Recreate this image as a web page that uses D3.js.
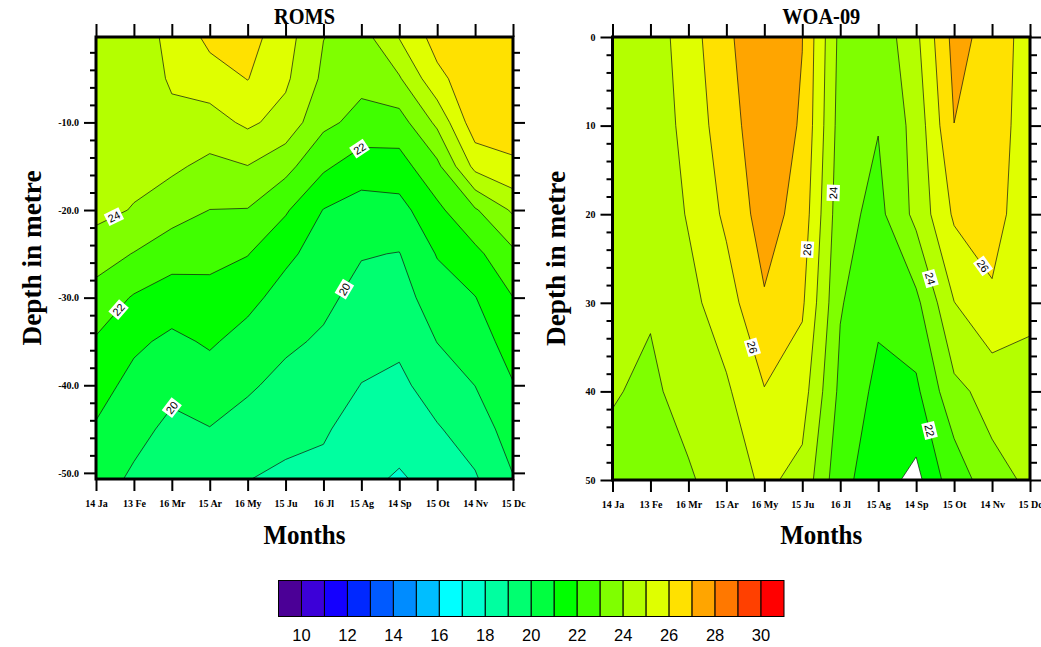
<!DOCTYPE html>
<html>
<head>
<meta charset="utf-8">
<script src="https://cdn.jsdelivr.net/npm/d3@7"></script>
<style>
  body { margin: 0; background: #fff; }
  svg { display: block; }
</style>
</head>
<body>
<svg id="chart" width="1041" height="647"></svg>
<script>
// ---- data ---------------------------------------------------------------
const months = ["14 Ja", "13 Fe", "16 Mr", "15 Ar", "16 My", "15 Ju",
                "16 Jl", "15 Ag", "14 Sp", "15 Ot", "14 Nv", "15 Dc"];

// ROMS model levels (m, negative downward) and one temperature profile per month
const romsDepths = [-0.25, -5, -10, -15, -20, -25, -30, -35, -40, -45, -50.7];
const romsProfiles = [
  [24.6, 24.5, 24.45, 24.4, 24.3, 23.45, 22.62, 21.9, 21.4, 20.9, 20.4],
  [24.8, 24.6, 24.45, 24.3, 23.94, 22.96, 21.91, 21.19, 20.69, 20.28, 19.85],
  [25.1, 25.08, 24.85, 24.18, 23.41, 22.43, 21.51, 20.79, 20.22, 19.79, 19.4],
  [26.3, 25.49, 24.62, 23.75, 22.99, 22.29, 21.68, 21.12, 20.54, 19.97, 19.5],
  [26.4, 26.03, 25.18, 23.98, 22.96, 22.04, 21.27, 20.66, 20.14, 19.61, 19.02],
  [25.4, 25.17, 24.64, 23.32, 22.12, 21.2, 20.64, 20.18, 19.71, 19.25, 18.84],
  [24.02, 23.81, 23.23, 22.18, 20.97, 20.6, 20.23, 19.86, 19.49, 19.11, 18.75],
  [23.57, 23.25, 22.7, 21.47, 20.61, 20.06, 19.68, 19.33, 18.98, 18.6, 18.22],
  [25.05, 23.9, 22.58, 21.6, 20.65, 19.97, 19.58, 19.19, 18.79, 18.36, 17.9],
  [26.4, 25.74, 24.22, 22.76, 21.77, 21.06, 20.53, 20.02, 19.45, 18.92, 18.3],
  [26.7, 26.62, 26.6, 25.3, 22.89, 21.75, 20.97, 20.47, 20.01, 19.46, 18.9],
  [26.8, 26.53, 26.3, 25.9, 24.15, 22.8, 21.99, 21.47, 20.95, 20.47, 19.95]
];

// WOA-09 standard depths (m) and one climatological profile per month
const woaDepths = [0, 10, 20, 30, 40, 50];
const woaProfiles = [
  [24.4, 24.35, 24.25, 24.15, 24.06, 23.75],
  [24.47, 24.4, 24.25, 24.08, 23.85, 23.7],
  [25.49, 25.3, 25.08, 24.7, 24.3, 23.9],
  [26.9, 26.6, 26.2, 25.55, 24.85, 24.4],
  [27.4, 27.6, 27.45, 26.9, 25.95, 25.2],
  [27.02, 26.9, 26.6, 26.15, 25.45, 24.7],
  [23.7, 23.55, 23.35, 23.08, 22.75, 22.3],
  [23.29, 23.04, 22.7, 22.2, 21.75, 21.45],
  [24.77, 24.35, 24.28, 22.75, 21.8, 21.3],
  [27.33, 26.99, 26.15, 24.98, 23.75, 22.34],
  [26.64, 26.55, 26.4, 25.85, 24.35, 23.7],
  [25.52, 25.45, 25.35, 25.15, 24.75, 24.15]
];
// area without WOA data near the bottom (month index, depth)
const woaMissing = [[7.6, 50], [8.0, 47.4], [8.16, 50]];

// contour labels: level and approximate place along the line (month index, depth)
const romsLabels = [
  { level: 24, month: 0.5, depth: -21 },
  { level: 22, month: 7.0, depth: -13.3 },
  { level: 22, month: 0.5, depth: -31 },
  { level: 20, month: 2.0, depth: -41.7 },
  { level: 20, month: 6.5, depth: -28.9 }
];
const woaLabels = [
  { level: 24, month: 5.84, depth: 17.6 },
  { level: 26, month: 5.15, depth: 24 },
  { level: 26, month: 3.7, depth: 35 },
  { level: 26, month: 9.71, depth: 26 },
  { level: 24, month: 8.42, depth: 27.2 },
  { level: 22, month: 8.36, depth: 44.4 }
];

// colour table: first box is below 10, last box above 30
const palette = ["#4b0096", "#3c00d8", "#1400ff", "#0028ff", "#005aff", "#008cff",
                 "#00beff", "#00ffff", "#00ffd0", "#00ffa0", "#00ff70", "#00ff40",
                 "#00ff00", "#40ff00", "#7fff00", "#b4ff00", "#dfff00", "#ffe100",
                 "#ffa500", "#ff7800", "#ff4000", "#ff0000"];
const levels = d3.range(10, 31);            // contour levels 10 .. 30
const barTicks = d3.range(10, 31, 2);       // colour bar labels

// ---- drawing ------------------------------------------------------------
const svg = d3.select("#chart");
const serif = "'Liberation Serif', 'Times New Roman', serif";
const sans = "'Liberation Sans', Arial, Helvetica, sans-serif";
const bandColor = t => palette[t - 9];

function drawPanel(cfg) {
  const { left, right, top, bottom } = cfg;
  const x = d3.scaleLinear().domain([0, months.length - 1]).range([left, right]);
  const y = d3.scaleLinear().domain(cfg.yDomain).range([top, bottom]);

  // grid laid out with month varying fastest, as d3.contours expects
  const nx = cfg.profiles.length, ny = cfg.depths.length;
  const grid = new Array(nx * ny);
  cfg.profiles.forEach((col, i) => col.forEach((v, j) => { grid[i + j * nx] = v; }));
  const rowDepth = d3.scaleLinear().domain(d3.range(ny)).range(cfg.depths);
  const toPx = (cx, cy) => [x(cx - 0.5), y(rowDepth(cy - 0.5))];

  const bands = d3.contours().size([nx, ny]).thresholds(levels)(grid);
  const ringPath = ring => "M" + ring.map(p => toPx(p[0], p[1]).map(v => v.toFixed(2)).join(",")).join("L") + "Z";
  const bandPath = d => d.coordinates.map(poly => poly.map(ringPath).join("")).join("");

  const clipId = cfg.id + "-clip";
  svg.append("clipPath").attr("id", clipId).append("rect")
    .attr("x", left).attr("y", top).attr("width", right - left).attr("height", bottom - top);

  const plot = svg.append("g").attr("clip-path", `url(#${clipId})`);
  plot.append("g").selectAll("path").data(bands).join("path")
    .attr("d", bandPath).attr("fill", d => bandColor(d.value));
  plot.append("g").selectAll("path").data(bands).join("path")
    .attr("d", bandPath).attr("fill", "none")
    .attr("stroke", "#111").attr("stroke-width", 0.7).attr("stroke-linejoin", "round");

  if (cfg.missing) {
    plot.append("path")
      .attr("d", d3.line()(cfg.missing.map(([m, d]) => [x(m), y(d)])) + "Z")
      .attr("fill", "#fff").attr("stroke", "#111").attr("stroke-width", 0.7);
  }

  // contour labels placed on the nearest point of the line, aligned with it
  const lab = plot.append("g");
  cfg.labels.forEach(l => {
    const band = bands.find(b => b.value === l.level);
    if (!band) return;
    const hx = x(l.month), hy = y(l.depth);
    let best = null;
    band.coordinates.forEach(poly => poly.forEach(ring => {
      const pts = ring.map(p => toPx(p[0], p[1]));
      for (let k = 0; k < pts.length - 1; k++) {
        const [ax, ay] = pts[k], [bx, by] = pts[k + 1];
        const inside = p => p[0] > left + 0.5 && p[0] < right - 0.5 && p[1] > top + 0.5 && p[1] < bottom - 0.5;
        if (!inside(pts[k]) && !inside(pts[k + 1])) continue;
        const dx = bx - ax, dy = by - ay, len2 = dx * dx + dy * dy;
        if (len2 === 0) continue;
        let t = ((hx - ax) * dx + (hy - ay) * dy) / len2;
        t = Math.max(0, Math.min(1, t));
        const px = ax + t * dx, py = ay + t * dy;
        const dist = Math.hypot(px - hx, py - hy);
        if (!best || dist < best.dist) best = { dist, px, py, dx, dy };
      }
    }));
    if (!best) return;
    let ang = Math.atan2(best.dy, best.dx) * 180 / Math.PI;
    while (ang >= 90) ang -= 180;
    while (ang < -90) ang += 180;
    const g = lab.append("g").attr("transform", `translate(${best.px},${best.py}) rotate(${ang})`);
    const txt = g.append("text").text(l.level)
      .attr("font-family", sans).attr("font-size", 11)
      .attr("text-anchor", "middle").attr("dy", "0.36em").attr("fill", "#000");
    const w = txt.node().getComputedTextLength();
    g.insert("rect", "text").attr("x", -w / 2 - 2).attr("y", -6.5)
      .attr("width", w + 4).attr("height", 13).attr("fill", "#fff");
  });

  // axes
  const styleAxis = sel => {
    sel.select(".domain").remove();
    sel.selectAll(".tick line").attr("stroke", "#000").attr("stroke-width", 2);
    sel.attr("font-family", serif).attr("font-size", 10).attr("font-weight", "bold");
    sel.selectAll(".tick text").attr("fill", "#000");
  };
  const minor = cfg.minorTicks;

  svg.append("g").attr("transform", `translate(0,${bottom})`)
    .call(d3.axisBottom(x).tickValues(d3.range(months.length))
      .tickFormat(i => months[i]).tickSize(12).tickPadding(9))
    .call(styleAxis);
  svg.append("g").attr("transform", `translate(0,${top})`)
    .call(d3.axisTop(x).tickValues(d3.range(months.length)).tickFormat("").tickSize(13))
    .call(styleAxis);
  svg.append("g").attr("transform", `translate(${left},0)`)
    .call(d3.axisLeft(y).tickValues(cfg.yMajor).tickFormat(cfg.yFormat).tickSize(12).tickPadding(5))
    .call(styleAxis);
  svg.append("g").attr("transform", `translate(${left},0)`)
    .call(d3.axisLeft(y).tickValues(minor).tickFormat("").tickSize(6))
    .call(styleAxis);
  svg.append("g").attr("transform", `translate(${right},0)`)
    .call(d3.axisRight(y).tickValues(cfg.yMajor).tickFormat("").tickSize(12))
    .call(styleAxis);
  svg.append("g").attr("transform", `translate(${right},0)`)
    .call(d3.axisRight(y).tickValues(minor).tickFormat("").tickSize(7))
    .call(styleAxis);

  // frame
  svg.append("rect").attr("x", left).attr("y", top)
    .attr("width", right - left).attr("height", bottom - top)
    .attr("fill", "none").attr("stroke", "#000").attr("stroke-width", 3);

  // titles
  const cx = (left + right) / 2;
  svg.append("text").text(cfg.title)
    .attr("x", cx).attr("y", 23.5).attr("text-anchor", "middle")
    .attr("font-family", serif).attr("font-weight", "bold").attr("font-size", 23)
    .attr("textLength", cfg.titleLength).attr("lengthAdjust", "spacingAndGlyphs");
  svg.append("text").text("Months")
    .attr("x", cx).attr("y", 544).attr("text-anchor", "middle")
    .attr("font-family", serif).attr("font-weight", "bold").attr("font-size", 28)
    .attr("textLength", 82).attr("lengthAdjust", "spacingAndGlyphs");
  svg.append("text").text("Depth in metre")
    .attr("transform", `translate(${cfg.yTitleX},${(top + bottom) / 2}) rotate(-90)`)
    .attr("text-anchor", "middle")
    .attr("font-family", serif).attr("font-weight", "bold").attr("font-size", 28)
    .attr("textLength", 175).attr("lengthAdjust", "spacingAndGlyphs");
}

drawPanel({
  id: "roms", title: "ROMS", titleLength: 61,
  left: 96, right: 513, top: 37, bottom: 479,
  yDomain: [-0.25, -50.7], depths: romsDepths, profiles: romsProfiles,
  yMajor: [-10, -20, -30, -40, -50], yFormat: v => v.toFixed(1),
  minorTicks: d3.range(-2, -50, -2).filter(v => v % 10 !== 0),
  labels: romsLabels, yTitleX: 41
});

drawPanel({
  id: "woa", title: "WOA-09", titleLength: 78,
  left: 612.5, right: 1030, top: 37, bottom: 480,
  yDomain: [0, 50], depths: woaDepths, profiles: woaProfiles,
  yMajor: [0, 10, 20, 30, 40, 50], yFormat: v => String(v),
  minorTicks: d3.range(2, 50, 2).filter(v => v % 10 !== 0),
  labels: woaLabels, missing: woaMissing, yTitleX: 565
});

// colour bar
const bar = d3.scaleLinear().domain([9, 31]).range([278.5, 784]);
const barG = svg.append("g");
barG.selectAll("rect").data(palette).join("rect")
  .attr("x", (d, i) => bar(9 + i)).attr("y", 580.5)
  .attr("width", (d, i) => bar(10 + i) - bar(9 + i)).attr("height", 36)
  .attr("fill", d => d).attr("stroke", "#000").attr("stroke-width", 1);
barG.selectAll("text").data(barTicks).join("text")
  .attr("x", d => bar(d)).attr("y", 641).attr("text-anchor", "middle")
  .attr("font-family", sans).attr("font-size", 16.5).attr("fill", "#000")
  .text(d => d);
</script>
</body>
</html>
